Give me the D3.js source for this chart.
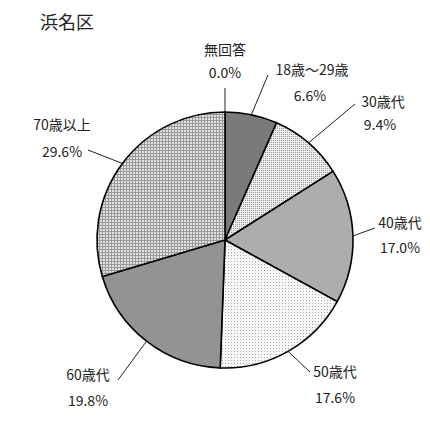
<!DOCTYPE html><html><head><meta charset="utf-8"><script src="https://cdn.jsdelivr.net/npm/d3@7"></script>
<style>body{margin:0;background:#fff}text{font-family:"Noto Sans CJK JP",sans-serif;fill:#222}</style></head><body>
<script>
const categories=["無回答","18歳～29歳","30歳代","40歳代","50歳代","60歳代","70歳以上"];
const values=[0.0,6.6,9.4,17.0,17.6,19.8,29.6];
const fills=["#888","#7a7a7a","url(#p30)","#adadad","url(#p50)","#939393","url(#p70)"];
const labelPos=[[225,55,225,78],[312,75,310,101],[383,107,380,130],[400,228,400,253],[335,377,335,403],[88,380,88,406],[62,130,62,157]];
const anchors=[[225,88],[268,75],[355,104],[375,228],[310,372],[118,380],[88,150]];
const svg=d3.select("body").append("svg").attr("width",430).attr("height",429);
const defs=svg.append("defs");
function dots(id,bg,fg,s){const p=defs.append("pattern").attr("id",id).attr("width",s).attr("height",s).attr("patternUnits","userSpaceOnUse");p.append("rect").attr("width",s).attr("height",s).attr("fill",bg);p.append("rect").attr("width",1).attr("height",1).attr("fill",fg);}
dots("p30","#eee","#999",2);dots("p50","#f7f7f7","#aaa",3);
const g70=defs.append("pattern").attr("id","p70").attr("width",3).attr("height",3).attr("patternUnits","userSpaceOnUse");
g70.append("rect").attr("width",3).attr("height",3).attr("fill","#e2e2e2");
g70.append("rect").attr("width",3).attr("height",1).attr("fill","#999");g70.append("rect").attr("width",1).attr("height",3).attr("fill","#999");
svg.append("text").attr("x",40).attr("y",29).attr("font-size",18).text("浜名区");
const cx=225,cy=240,r=128;
const pie=d3.pie().sort(null).value(d=>d)(values);
const arc=d3.arc().innerRadius(0).outerRadius(r);
const g=svg.append("g").attr("transform",`translate(${cx},${cy})`);
g.selectAll("path").data(pie).join("path").attr("d",arc).attr("fill",(d,i)=>fills[i]).attr("stroke","#000").attr("stroke-width",1.6);
pie.forEach((d,i)=>{const a=(d.startAngle+d.endAngle)/2;const x=cx+Math.sin(a)*r,y=cy-Math.cos(a)*r;
svg.append("line").attr("x1",x).attr("y1",y).attr("x2",anchors[i][0]).attr("y2",anchors[i][1]).attr("stroke","#222").attr("stroke-width",1);
const lp=labelPos[i];
svg.append("text").attr("x",lp[0]).attr("y",lp[1]).attr("text-anchor","middle").attr("font-size",14).text(categories[i]);
svg.append("text").attr("x",lp[2]).attr("y",lp[3]).attr("text-anchor","middle").attr("font-size",14).text(values[i].toFixed(1)+"%");});
</script></body></html>
